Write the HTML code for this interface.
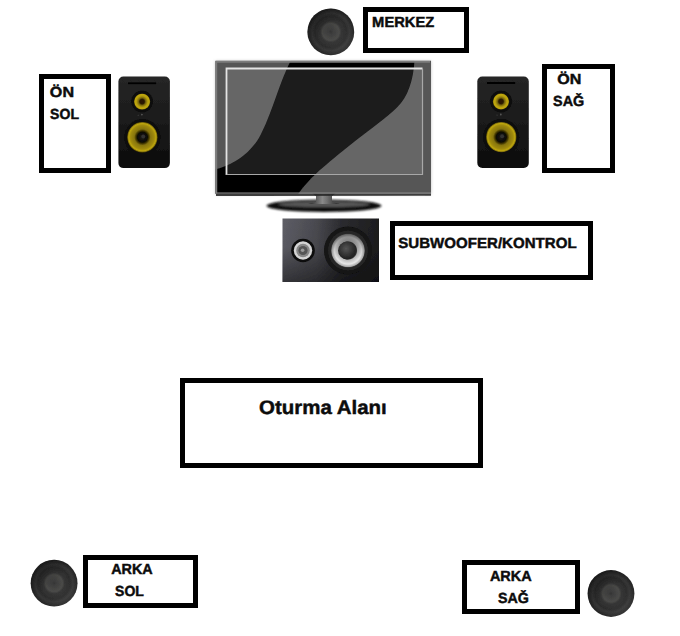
<!DOCTYPE html>
<html><head><meta charset="utf-8">
<style>
html,body{margin:0;padding:0;background:#fff;}
body{width:680px;height:636px;position:relative;overflow:hidden;font-family:"Liberation Sans",sans-serif;}
.box{position:absolute;box-sizing:border-box;border:5px solid #000;background:#fff;}
.t{position:absolute;font-weight:bold;color:#0c0c0c;font-size:14.6px;line-height:20px;white-space:nowrap;transform-origin:0 0;text-rendering:geometricPrecision;-webkit-text-stroke:0.45px #0c0c0c;}
svg{position:absolute;left:0;top:0;}
</style></head><body>
<svg width="680" height="636" viewBox="0 0 680 636">
<defs>
<radialGradient id="rs" cx="50%" cy="50%" r="50%">
<stop offset="0" stop-color="#343434"/><stop offset="0.1" stop-color="#3e3e3e"/><stop offset="0.36" stop-color="#4a4a48"/><stop offset="0.45" stop-color="#353535"/><stop offset="0.68" stop-color="#2c2c2c"/><stop offset="0.8" stop-color="#363636"/><stop offset="0.92" stop-color="#2a2a2a"/><stop offset="1" stop-color="#242424"/>
</radialGradient>
<linearGradient id="rsl" x1="0.15" y1="0.1" x2="0.85" y2="0.9"><stop offset="0" stop-color="#000" stop-opacity="0.35"/><stop offset="0.5" stop-color="#000" stop-opacity="0"/><stop offset="1" stop-color="#fff" stop-opacity="0.08"/></linearGradient>
<radialGradient id="yl" cx="50%" cy="50%" r="50%">
<stop offset="0" stop-color="#1a1a1a"/><stop offset="0.33" stop-color="#0c0a04"/><stop offset="0.44" stop-color="#4a3e04"/><stop offset="0.54" stop-color="#86740a"/><stop offset="0.78" stop-color="#a08a0a"/><stop offset="0.9" stop-color="#bea60e"/><stop offset="1" stop-color="#5e5004"/>
</radialGradient>
<radialGradient id="yl2" cx="50%" cy="50%" r="50%">
<stop offset="0" stop-color="#2a1606"/><stop offset="0.28" stop-color="#2a1a04"/><stop offset="0.45" stop-color="#7a6808"/><stop offset="0.7" stop-color="#b8a010"/><stop offset="0.88" stop-color="#c0a810"/><stop offset="1" stop-color="#5a4c04"/>
</radialGradient>
<linearGradient id="spk" x1="0" y1="0" x2="0" y2="1"><stop offset="0" stop-color="#262626"/><stop offset="0.5" stop-color="#1a1a1a"/><stop offset="1" stop-color="#0c0c0c"/></linearGradient>
<linearGradient id="sub" x1="0" y1="0" x2="1" y2="0"><stop offset="0" stop-color="#5e5e66"/><stop offset="0.35" stop-color="#4a4a50"/><stop offset="0.6" stop-color="#2c2c30"/><stop offset="1" stop-color="#1c1c1e"/></linearGradient>
<linearGradient id="subv" x1="0" y1="0" x2="0" y2="1"><stop offset="0" stop-color="#000" stop-opacity="0"/><stop offset="0.45" stop-color="#000" stop-opacity="0.05"/><stop offset="1" stop-color="#000" stop-opacity="0.45"/></linearGradient>
<linearGradient id="conev" x1="0" y1="0" x2="0" y2="1"><stop offset="0" stop-color="#000" stop-opacity="0.45"/><stop offset="0.5" stop-color="#000" stop-opacity="0.1"/><stop offset="0.75" stop-color="#000" stop-opacity="0"/></linearGradient>
<radialGradient id="dome" cx="45%" cy="40%" r="60%"><stop offset="0" stop-color="#555"/><stop offset="0.6" stop-color="#333"/><stop offset="1" stop-color="#1e1e1e"/></radialGradient>
<radialGradient id="cone" cx="50%" cy="50%" r="50%"><stop offset="0" stop-color="#222"/><stop offset="0.5" stop-color="#333"/><stop offset="0.56" stop-color="#bbb"/><stop offset="0.8" stop-color="#e8e8e8"/><stop offset="0.95" stop-color="#aaa"/><stop offset="1" stop-color="#444"/></radialGradient>
<clipPath id="tvclip"><rect x="215.5" y="60.8" width="215.5" height="133"/></clipPath>
<linearGradient id="neck" x1="0" y1="0" x2="1" y2="0"><stop offset="0" stop-color="#222"/><stop offset="0.45" stop-color="#8a8a8a"/><stop offset="0.6" stop-color="#707070"/><stop offset="1" stop-color="#222"/></linearGradient>
<filter id="b0"><feGaussianBlur stdDeviation="0.45"/></filter>
<filter id="b1"><feGaussianBlur stdDeviation="0.7"/></filter>
<filter id="b3"><feGaussianBlur stdDeviation="1.0"/></filter>
<filter id="b2"><feGaussianBlur stdDeviation="1.5"/></filter>

</defs>
<!-- TV -->
<g filter="url(#b3)">
<ellipse cx="324" cy="205.8" rx="57.5" ry="6.3" fill="#0a0a0a"/>
<ellipse cx="324" cy="204.3" rx="46" ry="3" fill="#777" opacity="0.7"/>
</g>
<g filter="url(#b1)">
<path d="M312,193 L336,193 L332,196 L332,202 L340,204 L308,204 L316,202 L316,196 Z" fill="url(#neck)"/>
</g>
<g filter="url(#b2)"><rect x="215.5" y="61" width="215.5" height="133.5" fill="#888" opacity="0.55"/></g>
<g filter="url(#b1)"><path d="M216,195 L431,194.6" stroke="#222" stroke-width="2.2" fill="none" opacity="0.85"/></g>
<g filter="url(#b0)">
<rect x="215.5" y="60.8" width="215.5" height="133" fill="#040404"/>
<rect x="226.5" y="68.5" width="196" height="106" fill="#1c1c1c"/>
<g clip-path="url(#tvclip)">
<path d="M215,60 L291,60 C286,70 282,80 277,94 C272,108 267,122 261,134 C255,146 246,155 235.5,161 C229,165 222,167.5 215,169.5 Z" fill="#fff" opacity="0.33"/>
<path d="M414.5,60 C413.5,80 408,97 397,107.5 C386,118 372,128 363,135 C350,145 335,157 326.5,164.5 C316,173 305,184 297.5,195 L432,195 L432,60 Z" fill="#fff" opacity="0.33"/>
</g>
<path d="M226.5,175 L226.5,68.5 L422.5,68.5" fill="none" stroke="#e4e4e4" stroke-width="1.8"/>
<path d="M422.5,68.5 L422.5,174.5 L226.5,174.5" fill="none" stroke="#a8a8a8" stroke-width="1.2"/>
<path d="M216.3,193.5 L216.3,61.8 L430,61.8" fill="none" stroke="#7c7c7c" stroke-width="1.8"/>
<path d="M216,193 L431,193" fill="none" stroke="#8a8a8a" stroke-width="1.2"/>
</g>
<!-- center speaker -->
<g filter="url(#b1)"><circle cx="330.8" cy="31.9" r="23.4" fill="url(#rs)"/><circle cx="330.8" cy="31.9" r="23.4" fill="url(#rsl)"/></g>
<!-- rear speakers -->
<g filter="url(#b1)"><circle cx="54.1" cy="583.2" r="23.4" fill="url(#rs)"/><circle cx="54.1" cy="583.2" r="23.4" fill="url(#rsl)"/></g>
<g filter="url(#b1)"><circle cx="611" cy="593.5" r="23.4" fill="url(#rs)"/><circle cx="611" cy="593.5" r="23.4" fill="url(#rsl)"/></g>
<!-- front speakers -->
<g transform="translate(118.4,76.6)" filter="url(#b1)">
<rect x="0" y="0" width="51.5" height="91.5" rx="5" fill="url(#spk)"/>
<rect x="9.5" y="5.6" width="28.5" height="2" rx="1" fill="#000"/>
<circle cx="23.7" cy="25" r="10.8" fill="#080808"/>
<circle cx="23.7" cy="25" r="8.2" fill="url(#yl2)"/>
<circle cx="23.5" cy="38" r="0.9" fill="#555"/>
<circle cx="19.8" cy="38.6" r="0.7" fill="#3a3a3a"/>
<circle cx="24" cy="60.6" r="18" fill="#080808"/>
<circle cx="24" cy="60.6" r="15.2" fill="url(#yl)"/>
<circle cx="24.8" cy="59.8" r="2" fill="#3a3a3a" opacity="0.8"/>
</g>
<g transform="translate(477.3,76.5)" filter="url(#b1)">
<rect x="0" y="0" width="51.5" height="91.5" rx="5" fill="url(#spk)"/>
<rect x="9.5" y="5.6" width="28.5" height="2" rx="1" fill="#000"/>
<circle cx="23.7" cy="25" r="10.8" fill="#080808"/>
<circle cx="23.7" cy="25" r="8.2" fill="url(#yl2)"/>
<circle cx="23.5" cy="38" r="0.9" fill="#555"/>
<circle cx="19.8" cy="38.6" r="0.7" fill="#3a3a3a"/>
<circle cx="24" cy="60.6" r="18" fill="#080808"/>
<circle cx="24" cy="60.6" r="15.2" fill="url(#yl)"/>
<circle cx="24.8" cy="59.8" r="2" fill="#3a3a3a" opacity="0.8"/>
</g>
<!-- subwoofer -->
<g filter="url(#b1)">
<rect x="282.5" y="218.5" width="96.5" height="63.5" fill="url(#sub)"/>
<rect x="282.5" y="218.5" width="96.5" height="63.5" fill="url(#subv)"/>
<circle cx="303" cy="250.5" r="11.8" fill="#0c0c0c"/>
<circle cx="303" cy="250.5" r="9.2" fill="#d4d4d4"/>
<circle cx="303" cy="250.5" r="6.8" fill="#888"/>
<circle cx="303" cy="250.5" r="4.6" fill="#555"/>
<circle cx="302.6" cy="250.2" r="1.8" fill="#9a9a9a"/>
<circle cx="348" cy="250.5" r="24" fill="#121212"/>
<circle cx="348" cy="250.5" r="20" fill="#262626"/>
<circle cx="348" cy="250.5" r="17" fill="url(#cone)"/>
<circle cx="348" cy="250.5" r="17" fill="url(#conev)"/>
<circle cx="347" cy="250.5" r="9" fill="url(#dome)"/>
</g>
</svg>

<div class="box" style="left:39px;top:74px;width:72px;height:99px;"></div>
<div class="box" style="left:363px;top:7px;width:106px;height:46px;"></div>
<div class="box" style="left:542px;top:64px;width:73px;height:109px;"></div>
<div class="box" style="left:390px;top:221px;width:203px;height:59px;"></div>
<div class="box" style="left:180px;top:378px;width:303px;height:89.5px;"></div>
<div class="box" style="left:83px;top:555px;width:115px;height:53px;"></div>
<div class="box" style="left:462px;top:560px;width:118px;height:54px;"></div>

<!--TXT-->
<div class="t" style="left:0;top:0;font-size:14.6px;transform:translate(49.86px,83.09px) scaleX(1.1026);">ÖN</div>
<div class="t" style="left:0;top:0;font-size:14.6px;transform:translate(50.09px,105.08px) scaleX(0.9629);">SOL</div>
<div class="t" style="left:0;top:0;font-size:14.6px;transform:translate(372.12px,12.74px) scaleX(1.0081);">MERKEZ</div>
<div class="t" style="left:0;top:0;font-size:14.6px;transform:translate(557.14px,69.59px) scaleX(1.1006);">ÖN</div>
<div class="t" style="left:0;top:0;font-size:14.6px;transform:translate(553.03px,91.82px) scaleX(0.9863);">SAĞ</div>
<div class="t" style="left:0;top:0;font-size:14.6px;transform:translate(398.28px,234.00px) scaleX(1.0326);">SUBWOOFER/KONTROL</div>
<div class="t" style="left:0;top:0;font-size:19.5px;transform:translate(259.11px,397.50px) scaleX(1.0484);">Oturma Alanı</div>
<div class="t" style="left:0;top:0;font-size:14.6px;transform:translate(111.15px,559.66px) scaleX(0.9866);">ARKA</div>
<div class="t" style="left:0;top:0;font-size:14.6px;transform:translate(115.09px,581.58px) scaleX(0.9613);">SOL</div>
<div class="t" style="left:0;top:0;font-size:14.6px;transform:translate(489.91px,566.69px) scaleX(0.9917);">ARKA</div>
<div class="t" style="left:0;top:0;font-size:14.6px;transform:translate(497.93px,588.58px) scaleX(0.9784);">SAĞ</div>
<!--/TXT-->
</body></html>
